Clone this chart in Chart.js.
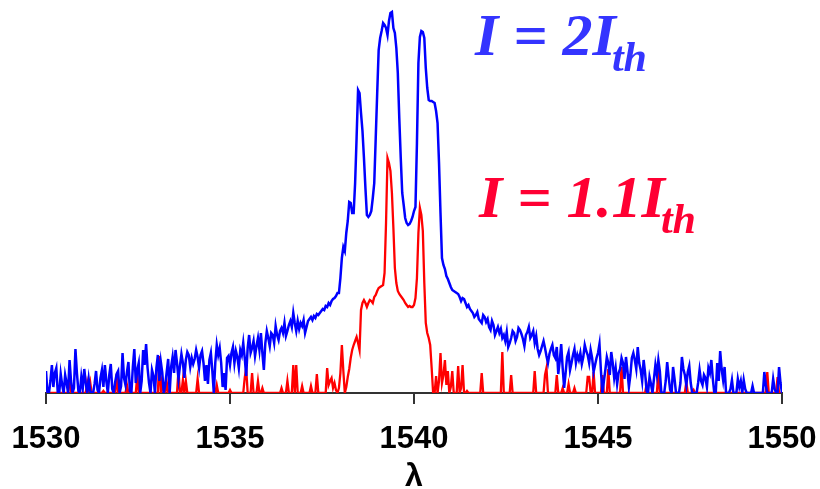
<!DOCTYPE html>
<html>
<head>
<meta charset="utf-8">
<script src="https://cdn.jsdelivr.net/npm/chart.js@4.4.1/dist/chart.umd.min.js"></script>
<style>
  html, body { margin: 0; padding: 0; background: #fff; }
  #wrap { width: 820px; height: 489px; }
</style>
</head>
<body>
<div id="wrap"><canvas id="spectrum"></canvas></div>
<script>
// wavelength grid (nm): 1530 .. 1550, one sample every 0.04 nm
const lambdaStart = 1530
const lambdaStep = 0.04
const xTicks = [1530, 1535, 1540, 1545, 1550]

// I = 2 Ith (blue), intensity in arbitrary units
const blueI = [
  22, 0, 0, 12, 28, 6, 20, 25, 0, 0, 19, 8, 0, 18, 10, 0, 33, 12, 0, 5,
  44, 20, 2, 0, 16, 5, 24, 10, 0, 14, 2, 0, 0, 9, 22, 3, 0, 15, 23, 6,
  28, 12, 0, 18, 29, 4, 0, 11, 19, 22, 0, 7, 40, 15, 8, 21, 31, 2, 0, 26,
  44, 10, 23, 30, 0, 12, 43, 28, 49, 25, 10, 0, 23, 17, 0, 25, 38, 12, 31, 20,
  0, 8, 21, 34, 0, 26, 36, 20, 43, 30, 14, 27, 39, 30, 15, 33, 41, 38, 26, 35,
  29, 34, 43, 36, 25, 38, 42, 30, 12, 28, 9, 33, 40, 22, 0, 30, 48, 38, 45, 30,
  6, 20, 3, 35, 37, 28, 40, 46, 30, 42, 36, 25, 43, 38, 50, 35, 17, 45, 58, 40,
  45, 52, 37, 47, 55, 43, 60, 40, 23, 50, 62, 55, 47, 60, 58, 50, 67, 58, 53, 62,
  65, 60, 70, 57, 62, 68, 72, 66, 80, 70, 62, 72, 64, 70, 67, 73, 60, 66, 72, 74,
  76, 73, 77, 75, 79, 78, 80, 82, 84, 83, 87, 86, 90, 88, 92, 94, 95, 97, 100, 100,
  115, 135, 146, 142, 160, 172, 191, 190, 180, 180, 210, 255, 303, 300, 280, 262, 235, 205, 178, 176,
  178, 182, 195, 210, 255, 300, 343, 355, 362, 370, 368, 365, 358, 372, 380, 381, 365, 360, 345, 320,
  275, 235, 200, 188, 175, 170, 168, 169, 172, 176, 182, 186, 250, 330, 356, 362, 361, 355, 325, 305,
  293, 292, 292, 291, 290, 282, 270, 230, 180, 135, 128, 124, 117, 114, 110, 106, 103, 102, 101, 100,
  99, 96, 92, 95, 94, 90, 86, 88, 84, 82, 80, 76, 78, 81, 74, 72, 70, 78, 76, 71,
  74, 66, 63, 72, 68, 58, 62, 66, 60, 64, 55, 58, 52, 61, 46, 50, 55, 62, 60, 52,
  56, 65, 63, 59, 54, 47, 58, 61, 66, 55, 58, 62, 50, 57, 44, 38, 42, 47, 52, 45,
  37, 30, 39, 44, 48, 38, 35, 46, 19, 32, 49, 25, 5, 20, 36, 41, 23, 30, 38, 44,
  30, 38, 33, 40, 29, 36, 48, 42, 38, 30, 43, 35, 21, 28, 35, 40, 49, 22, 0, 12,
  23, 36, 30, 18, 41, 30, 15, 25, 9, 20, 24, 35, 30, 14, 36, 22, 6, 18, 35, 40,
  33, 24, 46, 30, 23, 12, 33, 20, 2, 0, 16, 9, 0, 14, 28, 18, 33, 22, 1, 0,
  0, 12, 31, 16, 3, 0, 26, 14, 0, 0, 0, 10, 36, 24, 18, 8, 21, 27, 10, 0,
  0, 0, 0, 10, 23, 12, 8, 18, 15, 6, 25, 20, 33, 14, 0, 0, 30, 12, 42, 24,
  13, 26, 0, 0, 0, 4, 13, 0, 0, 0, 14, 6, 12, 0, 13, 4, 0, 0, 0, 0,
  7, 0, 0, 0, 0, 0, 0, 0, 21, 8, 0, 0, 0, 0, 14, 4, 0, 0, 26, 10,
  0
]

// I = 1.1 Ith (red)
const redI = [
  0, 0, 0, 0, 0, 0, 0, 0, 0, 0, 0, 0, 0, 0, 0, 0, 23, 0, 0, 0,
  0, 0, 0, 0, 0, 0, 0, 0, 11, 4, 11, 0, 0, 0, 0, 0, 0, 0, 0, 2,
  0, 0, 0, 0, 0, 0, 0, 0, 19, 0, 0, 0, 0, 0, 0, 8, 0, 0, 0, 0,
  0, 0, 18, 0, 0, 0, 0, 0, 0, 0, 0, 0, 0, 0, 0, 0, 0, 37, 0, 13,
  0, 0, 11, 0, 0, 0, 0, 0, 0, 0, 23, 0, 0, 13, 0, 12, 0, 0, 0, 0,
  0, 0, 0, 14, 0, 0, 0, 0, 0, 0, 0, 0, 0, 0, 0, 0, 8, 0, 0, 0,
  0, 0, 0, 0, 0, 3, 0, 0, 0, 0, 0, 0, 0, 0, 0, 15, 25, 0, 0, 0,
  20, 0, 0, 0, 12, 0, 0, 5, 0, 0, 0, 0, 0, 0, 0, 0, 0, 0, 0, 0,
  5, 0, 0, 0, 12, 0, 0, 0, 28, 0, 28, 0, 0, 0, 7, 0, 0, 0, 0, 0,
  7, 0, 0, 0, 19, 0, 0, 0, 0, 0, 0, 25, 8, 12, 15, 5, 10, 3, 0, 5,
  20, 48, 22, 0, 6, 16, 24, 35, 43, 48, 52, 56, 50, 43, 83, 90, 93, 90, 86, 90,
  93, 92, 90, 96, 98, 102, 105, 106, 107, 108, 120, 170, 235, 230, 222, 200, 165, 125, 110, 102,
  99, 97, 95, 93, 90, 88, 86, 87, 86, 86, 88, 95, 115, 160, 185, 178, 162, 110, 70, 60,
  55, 48, 25, 0, 0, 17, 0, 12, 40, 10, 18, 33, 8, 22, 0, 6, 22, 0, 0, 0,
  27, 0, 5, 28, 0, 0, 2, 0, 0, 0, 0, 0, 0, 0, 0, 0, 20, 0, 0, 0,
  0, 0, 0, 0, 0, 0, 0, 0, 0, 0, 41, 0, 0, 0, 0, 0, 18, 0, 0, 0,
  0, 0, 0, 0, 0, 0, 0, 0, 0, 0, 0, 0, 22, 0, 0, 0, 0, 0, 0, 18,
  25, 0, 0, 0, 0, 0, 0, 18, 0, 0, 0, 5, 0, 0, 0, 9, 0, 0, 0, 5,
  0, 0, 0, 0, 0, 0, 0, 0, 16, 16, 0, 0, 21, 0, 0, 0, 0, 0, 18, 0,
  0, 0, 24, 0, 0, 0, 0, 0, 0, 0, 0, 26, 0, 0, 0, 0, 0, 0, 0, 0,
  0, 0, 0, 0, 0, 0, 0, 0, 9, 0, 0, 0, 0, 0, 0, 0, 23, 0, 0, 0,
  0, 0, 0, 0, 0, 0, 0, 0, 0, 0, 0, 0, 0, 0, 0, 11, 0, 0, 0, 0,
  3, 0, 0, 0, 0, 0, 0, 0, 0, 0, 0, 0, 0, 0, 0, 0, 0, 0, 0, 0,
  0, 0, 0, 0, 0, 0, 0, 0, 0, 0, 0, 0, 0, 0, 0, 0, 0, 0, 0, 0,
  0, 0, 0, 0, 0, 0, 0, 0, 0, 0, 21, 0, 0, 0, 0, 0, 0, 16, 0, 0,
  0
]

const labels = [
  { main: 'I = 2I', sub: 'th', color: '#3434ff', x: 475, y: 55 },
  { main: 'I = 1.1I', sub: 'th', color: '#ff0033', x: 479, y: 217 }
]

var toPoints = arr => arr.map((v, i) => ({ x: +(lambdaStart + i * lambdaStep).toFixed(2), y: v }))

// the two curve labels are written in serif bold italic, with a subscript
const curveLabels = {
  id: 'curveLabels',
  afterDraw(chart) {
    var ctx = chart.ctx
    ctx.save()
    ctx.textBaseline = 'alphabetic'
    labels.forEach(l => {
      ctx.fillStyle = l.color
      ctx.font = 'bold italic 60px "Liberation Serif"'
      ctx.fillText(l.main, l.x, l.y)
      var w = ctx.measureText(l.main).width
      ctx.font = 'bold italic 42px "Liberation Serif"'
      ctx.fillText(l.sub, l.x + w - 4, l.y + 16)
    })
    ctx.restore()
  }
}

new Chart(document.getElementById('spectrum'), {
  type: 'line',
  data: {
    datasets: [{
      label: 'I = 2Ith',
      data: toPoints(blueI),
      borderColor: '#0000ff',
      borderWidth: 2.5,
      pointRadius: 0,
      tension: 0
    },
    {
      label: 'I = 1.1Ith',
      data: toPoints(redI),
      borderColor: '#ff0000',
      borderWidth: 2.3,
      pointRadius: 0,
      tension: 0
    }]
  },
  options: {
    responsive: true,
    maintainAspectRatio: false,
    animation: false,
    layout: { padding: { left: 46, right: 38, top: 8, bottom: 0 } },
    plugins: {
      legend: { display: false },
      tooltip: { enabled: false }
    },
    scales: {
      x: {
        type: 'linear',
        min: 1530,
        max: 1550,
        z: 1,
        afterBuildTicks: axis => { axis.ticks = xTicks.map(v => ({ value: v })) },
        // fixed axis band under the plot, labels may hang past the ends
        afterFit: axis => {
          axis.height = 96
          axis.paddingLeft = 0
          axis.paddingRight = 0
        },
        ticks: {
          callback: v => String(v),
          color: '#000',
          font: { family: 'Liberation Sans', weight: 'bold', size: 31, lineHeight: 1 },
          padding: 20,
          maxRotation: 0
        },
        grid: { drawOnChartArea: false, tickLength: 11, color: '#333', lineWidth: 2 },
        border: { display: true, color: '#333', width: 2 },
        title: {
          display: true,
          text: 'λ',
          color: '#000',
          font: { family: 'Liberation Sans', weight: 'bold', size: 32, lineHeight: 0.75 },
          padding: { top: 0, bottom: 0 }
        }
      },
      y: {
        display: false,
        min: 0,
        max: 385
      }
    }
  },
  plugins: [curveLabels]
});
</script>
</body>
</html>
